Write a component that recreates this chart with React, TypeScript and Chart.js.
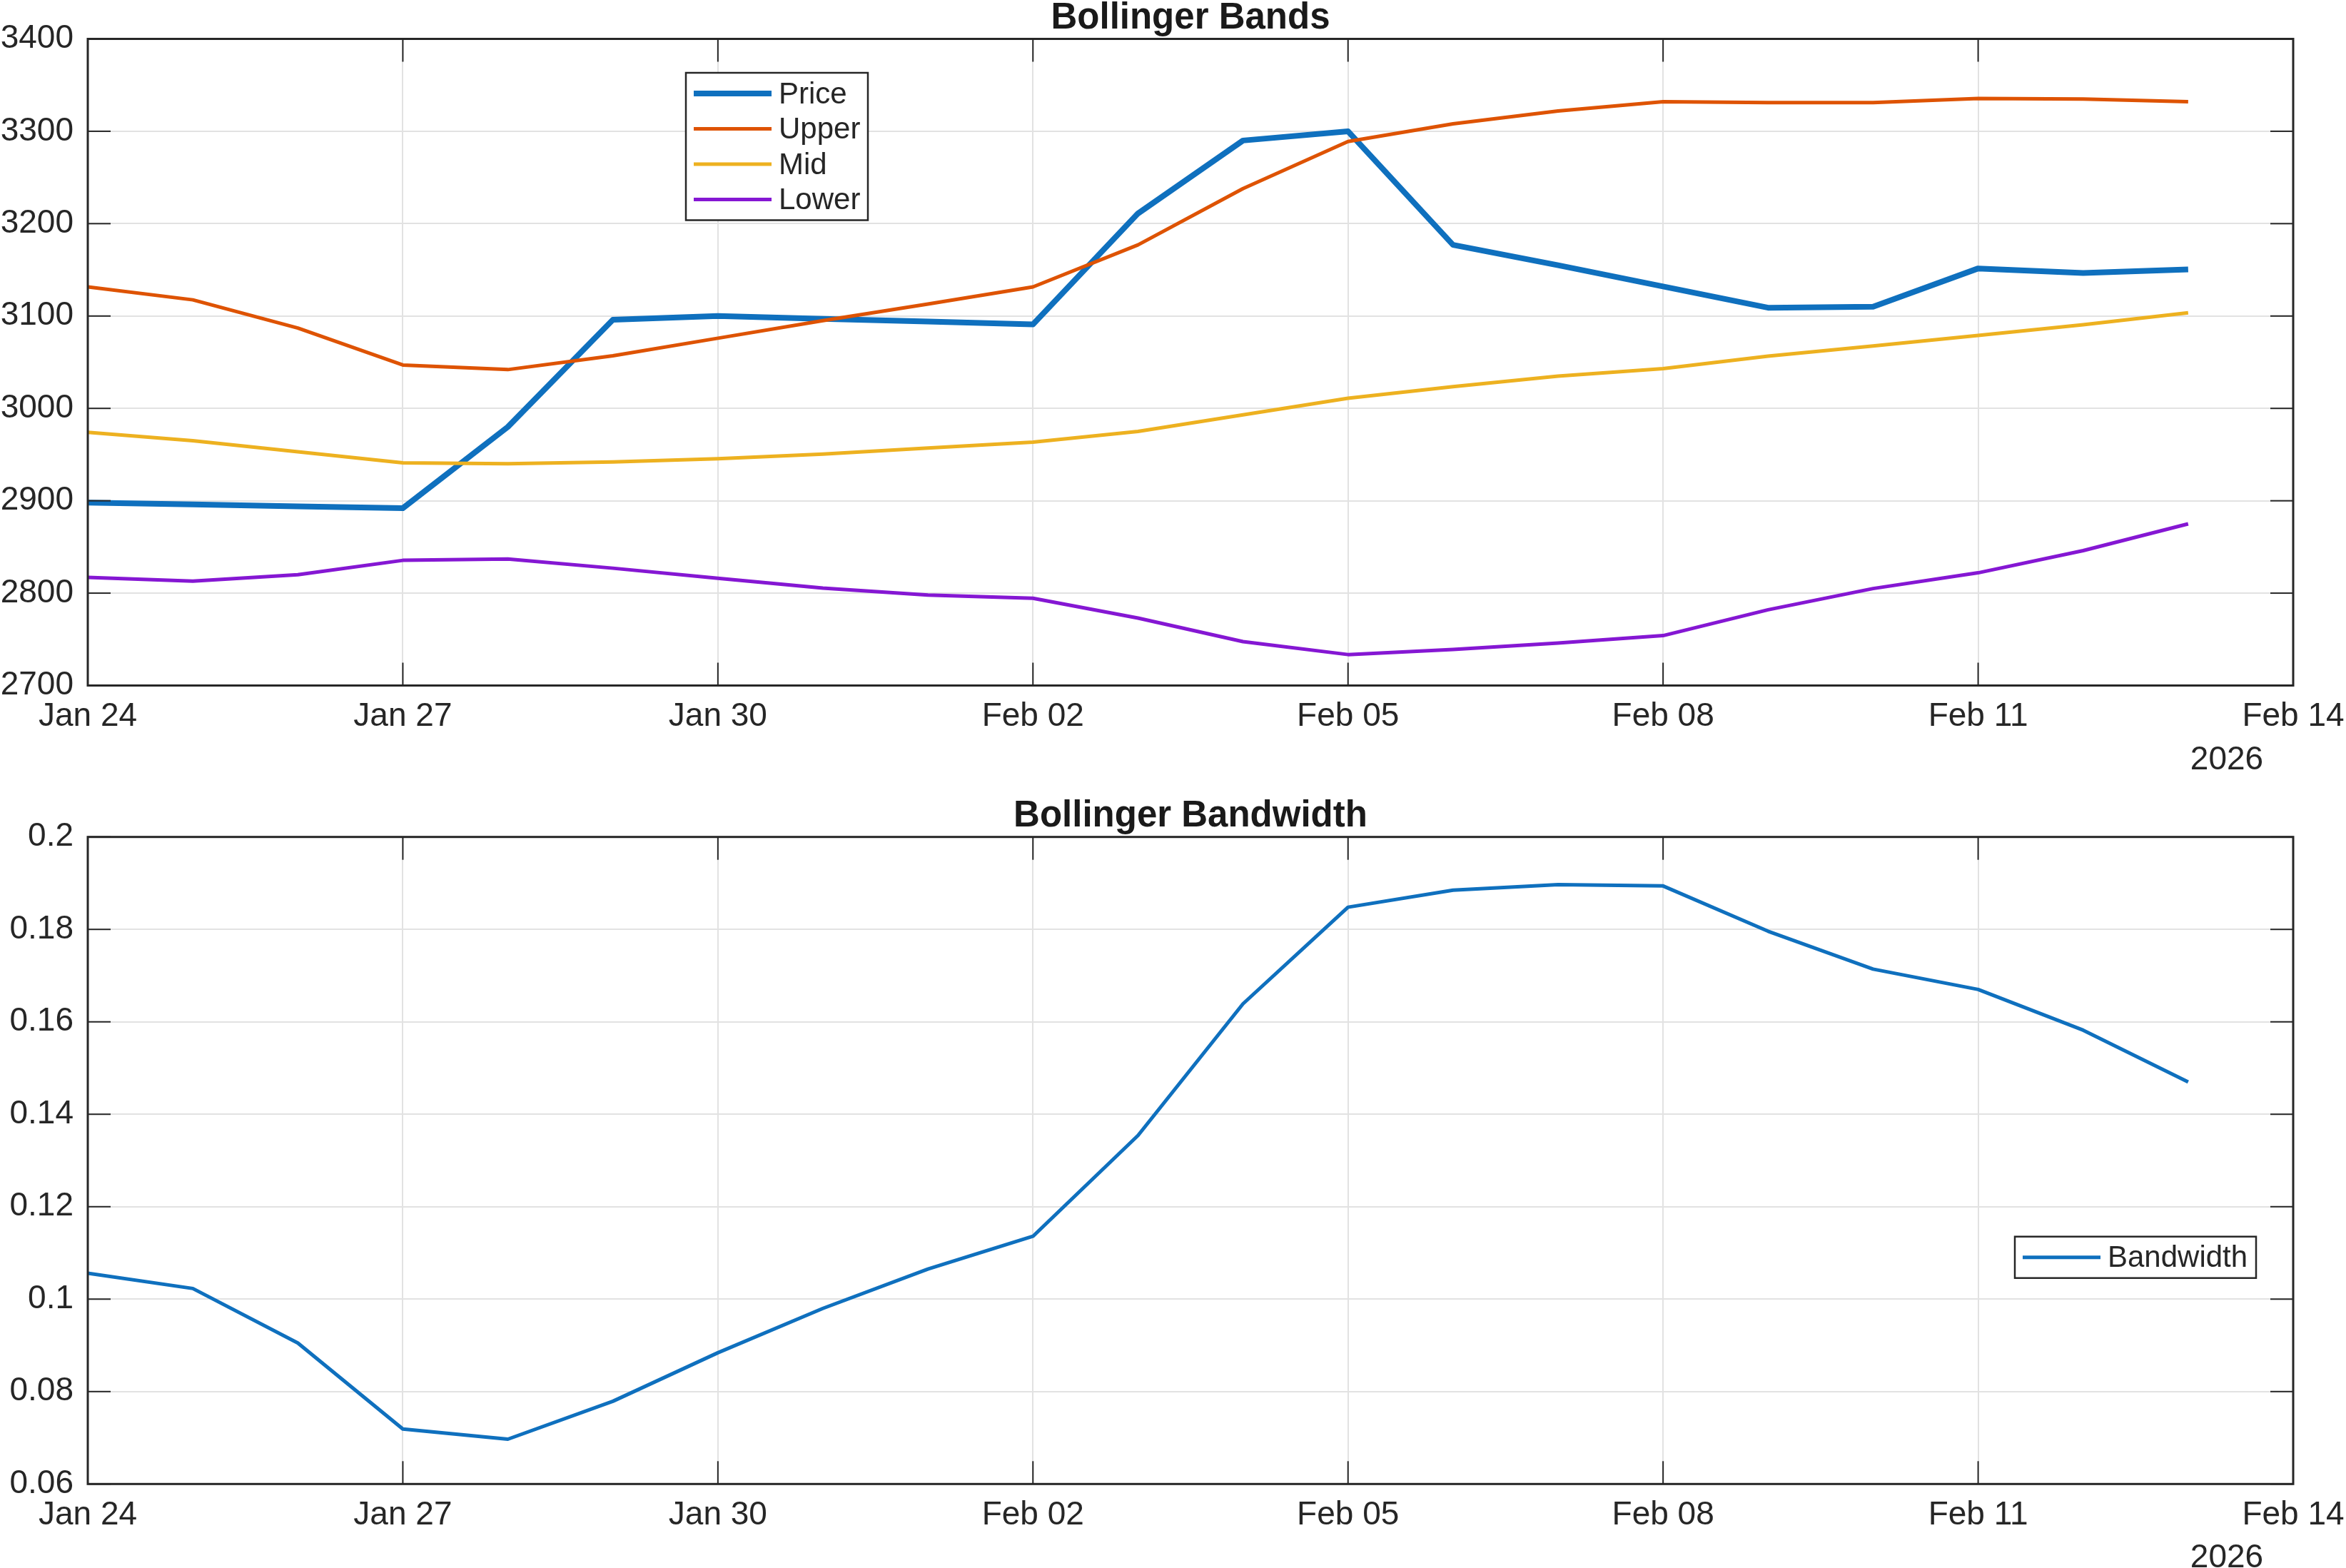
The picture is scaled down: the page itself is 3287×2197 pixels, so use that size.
import React, { useEffect, useRef } from 'react';
import { Chart, registerables } from 'chart.js';

Chart.register(...registerables);

// ---------- data ----------
const dates = [
  'Jan 24', 'Jan 25', 'Jan 26', 'Jan 27', 'Jan 28', 'Jan 29', 'Jan 30', 'Jan 31',
  'Feb 01', 'Feb 02', 'Feb 03', 'Feb 04', 'Feb 05', 'Feb 06', 'Feb 07', 'Feb 08',
  'Feb 09', 'Feb 10', 'Feb 11', 'Feb 12', 'Feb 13',
];
const xTickLabels = ['Jan 24', 'Jan 27', 'Jan 30', 'Feb 02', 'Feb 05', 'Feb 08', 'Feb 11', 'Feb 14'];
const yearLabel = '2026';

const price = [2898, 2896, 2894, 2892, 2980, 3096, 3100, 3097, 3094, 3091, 3211, 3290, 3300, 3177, 3155, 3132, 3109, 3110, 3151.5, 3146.5, 3150.5];
const upper = [3131.5, 3117.5, 3087, 3047, 3042, 3057, 3076, 3095, 3113, 3131.5, 3177, 3238, 3289, 3308, 3322, 3332, 3331, 3331, 3335.5, 3335, 3332];
const mid = [2974, 2965, 2953, 2941, 2940, 2942, 2945.5, 2950.5, 2957, 2963.5, 2975, 2993, 3011, 3023.5, 3035, 3043, 3056.5, 3067.5, 3079, 3090.5, 3103.5];
const lower = [2817, 2813, 2820, 2835.5, 2837, 2827, 2816, 2805.5, 2798, 2794.5, 2773, 2747.5, 2733.5, 2739, 2746, 2754, 2782, 2805, 2822, 2846, 2875];
const bandwidth = [0.1056, 0.1023, 0.0905, 0.0719, 0.0697, 0.0779, 0.0884, 0.098, 0.1065, 0.1136, 0.1354, 0.1639, 0.1848, 0.1885, 0.1897, 0.1894, 0.1796, 0.1714, 0.167, 0.1582, 0.147];

const titles = ['Bollinger Bands', 'Bollinger Bandwidth'];

// ---------- style ----------
const FONT = "'Liberation Sans', Arial, Helvetica, sans-serif";
const TXT = '#262626';
const GRID = '#e2e2e2';
const W = 3287;

const toXY = (arr: number[]) => arr.map((v, i) => ({ x: dates.indexOf(dates[i]), y: v }));

const framePlugin = {
  id: 'frame',
  afterDraw(chart: any, _args: any, opts: any) {
    const { ctx, chartArea: a, scales } = chart;
    const xs = scales.x;
    const ys = scales.y;
    ctx.save();
    // inner ticks
    ctx.strokeStyle = TXT;
    ctx.lineWidth = 2;
    const tl = 32;
    const seg = (x1: number, y1: number, x2: number, y2: number) => {
      ctx.beginPath();
      ctx.moveTo(x1, y1);
      ctx.lineTo(x2, y2);
      ctx.stroke();
    };
    xs.ticks.forEach((t: any) => {
      const px = xs.getPixelForValue(t.value);
      seg(px, a.bottom, px, a.bottom - tl);
      seg(px, a.top, px, a.top + tl);
    });
    ys.ticks.forEach((t: any) => {
      const py = ys.getPixelForValue(t.value);
      seg(a.left, py, a.left + tl, py);
      seg(a.right, py, a.right - tl, py);
    });
    // box
    ctx.lineWidth = 3;
    ctx.strokeRect(a.left, a.top, a.right - a.left, a.bottom - a.top);

    // title
    ctx.fillStyle = '#1a1a1a';
    ctx.font = `bold 51px ${FONT}`;
    ctx.textAlign = 'center';
    ctx.textBaseline = 'alphabetic';
    ctx.fillText(opts.title, (a.left + a.right) / 2, a.top - 15);

    // year label
    ctx.fillStyle = TXT;
    ctx.font = `46px ${FONT}`;
    ctx.fillText(yearLabel, a.right - 93, a.bottom + 117);

    // legend
    const lg = opts.legend;
    const ds = chart.data.datasets;
    const rowH = 49.5;
    const bx = a.left + lg.dx;
    const by = a.top + lg.dy;
    const bh = 29 * 2 + (ds.length - 1) * rowH;
    ctx.fillStyle = '#ffffff';
    ctx.fillRect(bx, by, lg.w, bh);
    ctx.strokeStyle = TXT;
    ctx.lineWidth = 2.5;
    ctx.strokeRect(bx, by, lg.w, bh);
    ctx.font = `42px ${FONT}`;
    ctx.textAlign = 'left';
    ctx.textBaseline = 'middle';
    ds.forEach((d: any, i: number) => {
      const cy = by + 29 + i * rowH;
      ctx.strokeStyle = d.borderColor;
      ctx.lineWidth = d.borderWidth;
      ctx.lineCap = 'butt';
      seg(bx + 11, cy, bx + 120, cy);
      ctx.fillStyle = TXT;
      ctx.fillText(d.label, bx + 130, cy + 2);
    });
    ctx.restore();
  },
};

function xScale() {
  return {
    type: 'linear',
    min: 0,
    max: 21,
    afterFit: (s: any) => {
      s.height = 100;
      s.paddingLeft = 0;
      s.paddingRight = 0;
    },
    ticks: {
      stepSize: 3,
      autoSkip: false,
      maxRotation: 0,
      minRotation: 0,
      font: { family: FONT, size: 46 },
      color: TXT,
      padding: 16,
      callback: (_v: any, i: number) => xTickLabels[i],
    },
    grid: { color: GRID, lineWidth: 2, drawTicks: false },
    border: { display: false },
  };
}

function yScale(min: number, max: number, step: number, fmt: (v: number) => string) {
  return {
    type: 'linear',
    min,
    max,
    afterFit: (s: any) => {
      s.width = 123;
    },
    ticks: {
      stepSize: step,
      font: { family: FONT, size: 46 },
      color: TXT,
      padding: 20,
      callback: (v: any) => fmt(Number(v)),
    },
    grid: { color: GRID, lineWidth: 2, drawTicks: false },
    border: { display: false },
  };
}

const baseOptions = (pad: any, y: any, plug: any) => ({
  responsive: false,
  maintainAspectRatio: false,
  animation: false,
  devicePixelRatio: 1,
  layout: { padding: pad },
  scales: { x: xScale(), y },
  elements: { point: { radius: 0 }, line: { tension: 0, borderJoinStyle: 'round', borderCapStyle: 'butt' } },
  plugins: {
    legend: { display: false },
    title: { display: false },
    tooltip: { enabled: false },
    frame: plug,
  },
});

export default function App() {
  const r1 = useRef<HTMLCanvasElement>(null);
  const r2 = useRef<HTMLCanvasElement>(null);

  useEffect(() => {
    const c1 = new Chart(r1.current as HTMLCanvasElement, {
      type: 'line',
      data: {
        datasets: [
          { label: 'Price', data: toXY(price), borderColor: '#0F70BE', borderWidth: 8, order: 0, fill: false },
          { label: 'Upper', data: toXY(upper), borderColor: '#DE5303', borderWidth: 5, order: -1, fill: false },
          { label: 'Mid', data: toXY(mid), borderColor: '#EDB120', borderWidth: 5, order: -2, fill: false },
          { label: 'Lower', data: toXY(lower), borderColor: '#8517D3', borderWidth: 5, order: -3, fill: false },
        ],
      },
      options: baseOptions(
        { left: 0, right: 74, top: 54.5, bottom: 38.5 },
        yScale(2700, 3400, 100, (v) => String(v)),
        { title: titles[0], legend: { dx: 838, dy: 47.5, w: 255 } }
      ) as any,
      plugins: [framePlugin],
    });
    const c2 = new Chart(r2.current as HTMLCanvasElement, {
      type: 'line',
      data: {
        datasets: [
          { label: 'Bandwidth', data: toXY(bandwidth), borderColor: '#0F70BE', borderWidth: 5, fill: false },
        ],
      },
      options: baseOptions(
        { left: 0, right: 74, top: 73.7, bottom: 17.7 },
        yScale(0.06, 0.2, 0.02, (v) => String(+v.toFixed(2))),
        { title: titles[1], legend: { dx: 2700, dy: 560, w: 338 } }
      ) as any,
      plugins: [framePlugin],
    });
    return () => {
      c1.destroy();
      c2.destroy();
    };
  }, []);

  return (
    <div style={{ position: 'fixed', left: 0, top: 0, width: W, height: 2197, background: '#ffffff' }}>
      <canvas ref={r1} width={W} height={1099} style={{ position: 'absolute', left: 0, top: 0, width: W, height: 1099 }} />
      <canvas ref={r2} width={W} height={1098} style={{ position: 'absolute', left: 0, top: 1099, width: W, height: 1098 }} />
    </div>
  );
}
